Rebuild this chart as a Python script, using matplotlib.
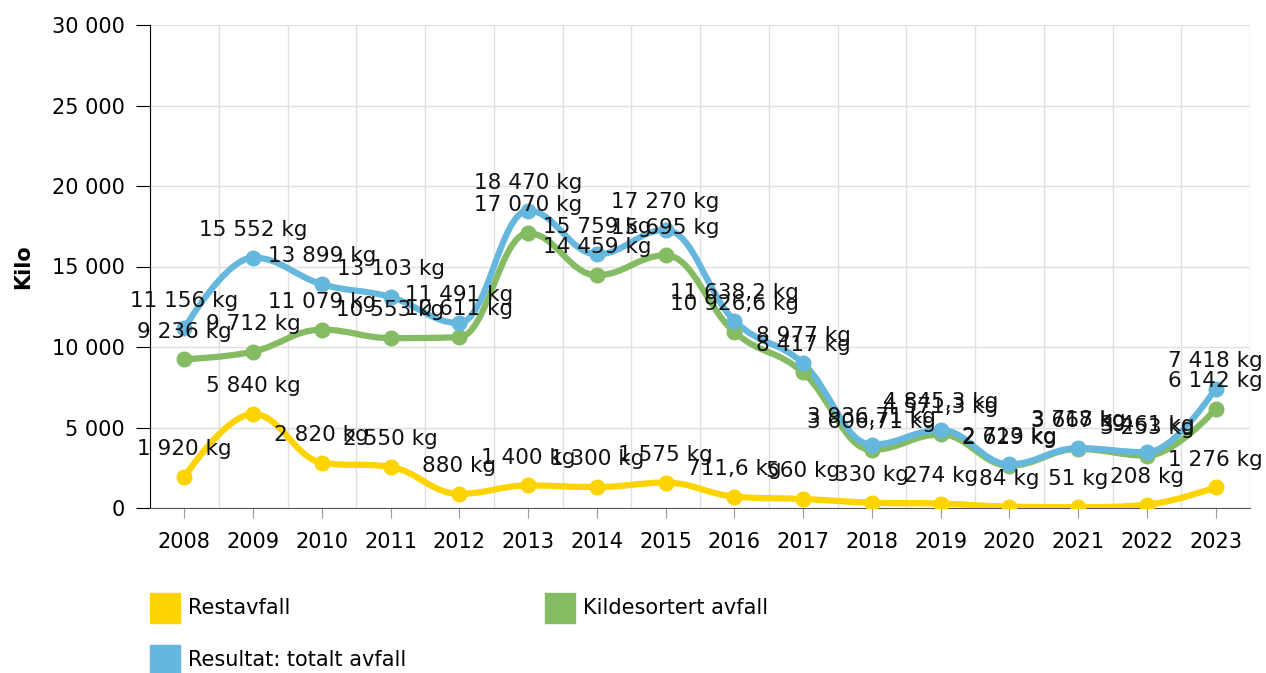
import matplotlib.pyplot as plt
import numpy as np
from matplotlib.path import Path
from matplotlib.patches import PathPatch, Rectangle

years = ['2008', '2009', '2010', '2011', '2012', '2013', '2014', '2015',
         '2016', '2017', '2018', '2019', '2020', '2021', '2022', '2023']
restavfall = [1920, 5840, 2820, 2550, 880, 1400, 1300, 1575,
              711.6, 560, 330, 274, 84, 51, 208, 1276]
kildesortert = [9236, 9712, 11079, 10553, 10611, 17070, 14459, 15695,
                10926.6, 8417, 3606.71, 4571.3, 2629, 3667, 3253, 6142]
totalt = [11156, 15552, 13899, 13103, 11491, 18470, 15759, 17270,
          11638.2, 8977, 3936.71, 4845.3, 2713, 3718, 3461, 7418]

series = [
    ('Restavfall', restavfall, '#fdd300'),
    ('Kildesortert avfall', kildesortert, '#85bb62'),
    ('Resultat: totalt avfall', totalt, '#66b7de'),
]


def fmt_num(v):
    if float(v).is_integer():
        return f"{int(v):,}".replace(",", " ")
    s = f"{v:,.2f}".rstrip('0')
    return s.replace(",", " ").replace(".", ",")


def spline_path(xs, ys, smoothing=1.5):
    # bezier spline a la highcharts
    n = len(xs)
    conts = []
    for i in range(n):
        if i == 0 or i == n - 1:
            conts.append((xs[i], ys[i], xs[i], ys[i]))
            continue
        px, py = xs[i], ys[i]
        lx, ly = xs[i - 1], ys[i - 1]
        nx, ny = xs[i + 1], ys[i + 1]
        d = smoothing + 1
        lcx = (smoothing * px + lx) / d
        lcy = (smoothing * py + ly) / d
        rcx = (smoothing * px + nx) / d
        rcy = (smoothing * py + ny) / d
        corr = ((rcy - lcy) * (rcx - px)) / (rcx - lcx) + py - rcy
        lcy += corr
        rcy += corr
        if lcy > ly and lcy > py:
            lcy = max(ly, py)
            rcy = 2 * py - lcy
        elif lcy < ly and lcy < py:
            lcy = min(ly, py)
            rcy = 2 * py - lcy
        if rcy > ny and rcy > py:
            rcy = max(ny, py)
            lcy = 2 * py - rcy
        elif rcy < ny and rcy < py:
            rcy = min(ny, py)
            lcy = 2 * py - rcy
        conts.append((lcx, lcy, rcx, rcy))
    verts = [(xs[0], ys[0])]
    codes = [Path.MOVETO]
    for i in range(1, n):
        verts += [(conts[i - 1][2], conts[i - 1][3]), (conts[i][0], conts[i][1]), (xs[i], ys[i])]
        codes += [Path.CURVE4] * 3
    return Path(verts, codes)


fig = plt.figure(figsize=(12.66, 6.73), dpi=100)
ax = fig.add_axes([150 / 1266, 1 - 508 / 673, 1100 / 1266, 483 / 673])

x = np.arange(len(years))
for name, vals, col in series:
    p = spline_path(x, vals)
    ax.add_patch(PathPatch(p, fill=False, edgecolor=col, lw=4.5, capstyle='round', zorder=3))
    ax.plot(x, vals, 'o', color=col, markersize=10.5, zorder=4)

for name, vals, col in series:
    for xi, v in zip(x, vals):
        ax.annotate(fmt_num(v) + ' kg', (xi, v), xytext=(0, 20), textcoords='offset points',
                    ha='center', va='center', fontsize=15.5, color='#111111', zorder=5)

ax.set_xlim(-0.5, len(years) - 0.5)
ax.set_ylim(0, 30000)
ax.set_yticks(np.arange(0, 30001, 5000))
ax.set_yticklabels([fmt_num(t) for t in np.arange(0, 30001, 5000)], fontsize=15)
ax.set_xticks(x)
ax.set_xticklabels(years, fontsize=15)
ax.set_xticks(np.arange(-0.5, len(years)), minor=True)
ax.grid(True, which='minor', axis='x', color='#e0e0e0', lw=1)
ax.grid(True, which='major', axis='y', color='#e0e0e0', lw=1)
ax.tick_params(axis='x', which='minor', length=0)
ax.tick_params(axis='x', which='major', length=7, color='#999999', pad=10)
ax.tick_params(axis='y', length=10, color='black', pad=8)
ax.set_axisbelow(True)
for s in ['top', 'right']:
    ax.spines[s].set_visible(False)
ax.spines['left'].set_color('black')
ax.spines['bottom'].set_color('#555555')
ax.set_ylabel('Kilo', fontsize=15, fontweight='bold', labelpad=14)

# legend
W, H = 1266, 673
legend_pos = [(150, 608), (545, 608), (150, 660)]
for (name, vals, col), (lx, ly) in zip(series, legend_pos):
    fig.patches.append(Rectangle((lx / W, 1 - (ly + 15) / H), 30 / W, 30 / H,
                                 transform=fig.transFigure, color=col))
    fig.text((lx + 38) / W, 1 - ly / H, name, fontsize=15, va='center', ha='left')

fig.savefig('out.png', dpi=100)
